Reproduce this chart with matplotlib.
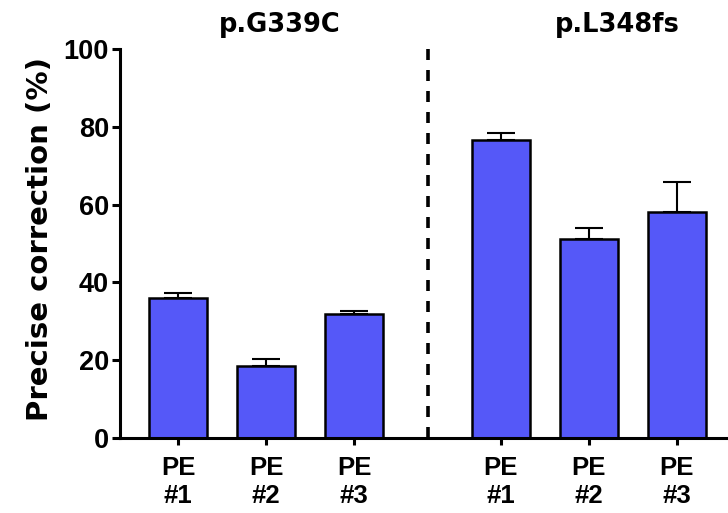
import numpy as np
import matplotlib
matplotlib.use("Agg")
import matplotlib.pyplot as plt

# values
groups = ["p.G339C", "p.L348fs"]
pe_labels = ["PE\n#1", "PE\n#2", "PE\n#3"]
g339c_mean = [35.9, 18.5, 31.8]
g339c_err = [1.5, 1.7, 0.8]
l348fs_mean = [76.6, 51.1, 58.0]
l348fs_err = [1.7, 3.0, 7.9]
yticks = [0, 20, 40, 60, 80, 100]

bar_color = "#5558F8"
tick_font = ["Liberation Sans", "DejaVu Sans"]
head_font = ["DejaVu Sans"]

plt.rcParams["lines.scale_dashes"] = False

fig = plt.figure(figsize=(7.28, 5.13), dpi=100)
W, H = 728, 513
ax = fig.add_axes([120 / W, (H - 438) / H, (W - 120) / W, (438 - 49) / H])

# bar positions (group 2 shifted right to leave room for the divider)
x1 = np.arange(3)
x2 = np.arange(3) + 3.67
width = 0.65

for xs, means, errs in [(x1, g339c_mean, g339c_err), (x2, l348fs_mean, l348fs_err)]:
    ax.bar(xs, means, width=width, color=bar_color, edgecolor="black",
           linewidth=1.8, zorder=2)
    ax.errorbar(xs, means, yerr=[np.zeros(3), errs], fmt="none",
                ecolor="black", elinewidth=1.5, capsize=10.4, capthick=1.5,
                zorder=1)

# dashed divider between the two variants (dash at both ends)
ax.plot([2.84, 2.84], [100, 0], color="black", lw=2.6,
        dashes=(7.92, 7.2), zorder=3, clip_on=False)

ax.set_xlim(-0.66, 6.25)
ax.set_ylim(0, 100)
ax.set_yticks(yticks)
ax.set_yticklabels([str(t) for t in yticks], family=tick_font,
                   fontweight="bold", fontsize=19.5)
ax.set_xticks(np.concatenate([x1, x2]))
ax.set_xticklabels(pe_labels * 2, family=tick_font, fontweight="bold",
                   fontsize=18.5, linespacing=1.2)

for side in ["top", "right"]:
    ax.spines[side].set_visible(False)
for side in ["left", "bottom"]:
    ax.spines[side].set_linewidth(2.2)
ax.tick_params(axis="y", length=6, width=2.2, pad=2)
ax.tick_params(axis="x", length=5, width=2.2, pad=8)

# group titles
for xc, name in zip([1.16, 4.99], groups):
    ax.text(xc, 1.044, name, transform=ax.get_xaxis_transform(),
            ha="center", va="baseline", fontsize=18.5, fontweight="bold",
            family=head_font)

fig.text(40 / W, 1 - 239 / H, "Precise correction (%)", rotation=90,
         ha="center", va="center", fontsize=21, fontweight="bold",
         family=head_font)

fig.savefig("out.png", dpi=100)
